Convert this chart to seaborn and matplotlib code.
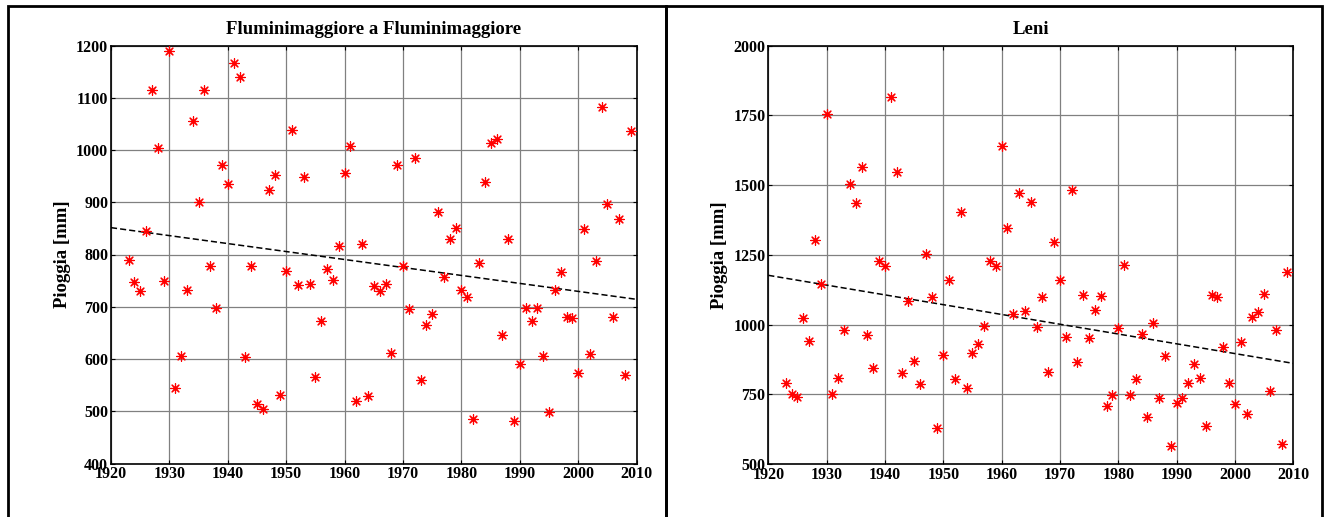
import numpy as np
import matplotlib
matplotlib.use("Agg")
import matplotlib.pyplot as plt
from matplotlib.patches import Rectangle
import seaborn as sns

# Annual rainfall series (mm), 1923-2009
years = list(range(1923, 2010))

fluminimaggiore = [
    789, 747, 731, 845, 1114, 1003, 750, 1190, 544, 605,
    732, 1056, 900, 1114, 778, 697, 972, 935, 1166, 1140,
    603, 778, 514, 504, 923, 953, 531, 768, 1039, 742,
    949, 743, 566, 672, 773, 751, 816, 956, 1008, 520,
    821, 530, 739, 731, 743, 611, 971, 778, 695, 984,
    559, 665, 686, 881, 757, 830, 850, 733, 718, 485,
    783, 939, 1013, 1021, 645, 829, 481, 591, 697, 672,
    698, 605, 498, 732, 767, 681, 679, 574, 849, 610,
    787, 1083, 897, 680, 868, 570, 1036,
]

leni = [
    791, 750, 741, 1022, 941, 1302, 1144, 1753, 751, 808,
    979, 1504, 1437, 1564, 962, 845, 1229, 1210, 1815, 1547,
    826, 1084, 868, 786, 1252, 1097, 628, 890, 1160, 803,
    1402, 772, 898, 930, 994, 1228, 1210, 1639, 1347, 1037,
    1470, 1047, 1438, 992, 1097, 829, 1295, 1161, 954, 1483,
    864, 1105, 952, 1051, 1101, 708, 746, 986, 1215, 746,
    803, 967, 669, 1007, 737, 888, 566, 717, 737, 789,
    857, 810, 636, 1107, 1099, 918, 791, 715, 936, 681,
    1027, 1045, 1111, 761, 982, 572, 1189,
]

titles = ["Fluminimaggiore a Fluminimaggiore", "Leni"]
ylabel = "Pioggia [mm]"
x_ticks = list(range(1920, 2011, 10))
y_ticks_left = list(range(400, 1201, 100))
y_ticks_right = list(range(500, 2001, 250))

sns.set_theme(style="white")
plt.rcParams["font.family"] = ["Liberation Serif", "DejaVu Serif"]
plt.rcParams["font.weight"] = "bold"
plt.rcParams["text.color"] = "black"
plt.rcParams["axes.labelcolor"] = "black"
plt.rcParams["xtick.color"] = "black"
plt.rcParams["ytick.color"] = "black"

W, H, DPI = 1330, 517, 100
fig = plt.figure(figsize=(W / DPI, H / DPI), dpi=DPI)
fig.patch.set_facecolor("white")


def px_axes(x0, x1, y0, y1):
    return fig.add_axes([x0 / W, 1 - y1 / H, (x1 - x0) / W, (y1 - y0) / H])


panels = [
    (px_axes(111, 636.7, 45.5, 463.5), fluminimaggiore, y_ticks_left),
    (px_axes(768.3, 1293.3, 45.5, 464), leni, y_ticks_right),
]

for (ax, vals, yt), title in zip(panels, titles):
    ax.set_facecolor("white")
    xs = np.array(years, dtype=float)
    ys = np.array(vals, dtype=float)

    sns.scatterplot(x=xs, y=ys, ax=ax, marker=(8, 2, 0), s=48,
                    color="red", edgecolor="red", linewidth=0.85, zorder=3)

    # least-squares linear trend across the full axis range
    slope, intercept = np.polyfit(xs, ys, 1)
    xl = np.array([x_ticks[0], x_ticks[-1]], dtype=float)
    sns.lineplot(x=xl, y=slope * xl + intercept, ax=ax, color="black",
                 linestyle=(0, (4, 2)), linewidth=1.1, zorder=2)

    ax.set_xlim(x_ticks[0], x_ticks[-1])
    ax.set_ylim(yt[0], yt[-1])
    ax.set_xticks(x_ticks)
    ax.set_yticks(yt)
    ax.set_xticklabels([str(t) for t in x_ticks], fontsize=11.5,
                       fontweight="bold", color="black")
    ax.set_yticklabels([str(t) for t in yt], fontsize=11.5,
                       fontweight="bold", color="black")
    ax.grid(True, color="#808080", linewidth=0.9)
    ax.set_axisbelow(True)
    for sp in ax.spines.values():
        sp.set_visible(True)
        sp.set_color("black")
        sp.set_linewidth(1.2)
    ax.tick_params(axis="both", direction="in", length=3, width=0.8,
                   top=True, right=True, bottom=True, left=True,
                   colors="black")
    ax.tick_params(axis="x", pad=2)
    ax.tick_params(axis="y", pad=2)
    ax.set_title(title, fontsize=13.5, fontweight="bold", pad=8, color="black")
    ax.set_ylabel(ylabel, fontsize=13.5, fontweight="bold", labelpad=4,
                  color="black")
    ax.set_xlabel("")

# outer panel frames, open at the bottom edge
for x0, x1 in [(8, 666), (666, 1322)]:
    fig.add_artist(Rectangle((x0 / W, -0.2), (x1 - x0) / W, 1.2 - 6 / H,
                             transform=fig.transFigure, fill=False,
                             edgecolor="black", linewidth=2.0, clip_on=False))

fig.savefig("out.png", dpi=DPI, facecolor="white")
